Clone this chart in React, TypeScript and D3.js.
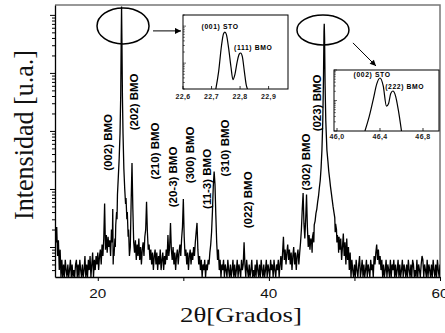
import React, { useEffect, useRef } from 'react';
import * as d3 from 'd3';

// XRD scan, counts, step 0.1 deg outside the two big peaks
const scanAStart = 15.0;
const scanA = [35, 12, 22, 7, 13, 4, 9, 3, 6, 3, 5, 3, 6, 4, 3, 5, 3, 4, 6, 3, 5, 3, 4, 3, 5, 6, 3, 5, 3, 6,
  4, 3, 5, 3, 4, 7, 3, 5, 3, 6, 4, 7, 3, 5, 8, 3, 6, 4, 7, 5, 8, 4, 7, 9, 5, 11, 7, 14, 56, 9,
  16, 8, 15, 10, 13, 7, 20, 12];

const peak1Theta = [21.75, 21.8, 21.85, 21.9, 22.0, 22.05, 22.1, 22.2, 22.25, 22.3, 22.4, 22.5, 22.6, 22.68,
  22.74, 22.78, 22.82, 22.88, 22.95, 23.05, 23.15, 23.25, 23.3, 23.4, 23.45, 23.55, 23.6, 23.7];
const peak1Counts = [45, 5, 9, 7, 14, 10, 24, 40, 30, 80, 160, 330, 900, 4000,
  40000, 140000, 40000, 4000, 900, 220, 100, 55, 70, 30, 40, 15, 20, 7];

const scanBStart = 23.8;
const scanB = [10, 60,
  280, 45, 12, 8, 13, 6, 11, 7, 14, 6,
  10, 5, 9, 12, 7, 15, 20, 60, 18, 9,
  11, 6, 9, 5, 8, 4, 7, 9, 5, 8,
  4, 7, 5, 9, 4, 6, 8, 4, 7, 5,
  9, 6, 16, 7, 10, 26, 9, 6, 10, 5,
  8, 4, 7, 9, 5, 8, 11, 7, 14, 22,
  67, 15, 7, 9, 5, 8, 4, 7, 9, 5,
  8, 6, 10, 7, 12, 18, 26, 9, 5, 7,
  4, 6, 3, 5, 4, 6, 3, 5, 4, 6,
  5, 8, 11, 18, 40, 110, 200, 120, 35, 12,
  6, 9, 4, 6, 3, 5, 4, 6, 3, 5,
  4, 3, 6, 4, 3, 5, 3, 4, 6, 3,
  5, 3, 4, 6, 3, 5, 4, 3, 6, 4,
  5, 12, 5, 3, 6, 4, 3, 5, 3, 4,
  6, 3, 4, 3, 5, 3, 6, 4, 3, 5,
  3, 6, 4, 3, 5, 3, 4, 6, 3, 5,
  4, 3, 6, 4, 5, 3, 6, 4, 3, 5,
  4, 6, 3, 5, 7, 4, 8, 15, 6, 9,
  5, 8, 11, 6, 9, 5, 8, 4, 7, 10,
  5, 8, 4, 7, 9, 5, 8, 12, 20, 45,
  85, 25, 14, 30, 80, 22, 10, 16, 9, 14];

const peak2Theta = [45.0, 45.05, 45.1, 45.2, 45.25, 45.3, 45.4, 45.5, 45.6, 45.7, 45.8, 45.9, 46.0, 46.1,
  46.2, 46.3, 46.38, 46.44, 46.47, 46.51, 46.57, 46.65, 46.78, 46.9, 47.0, 47.1, 47.2, 47.3, 47.4, 47.5,
  47.6, 47.7, 47.75, 47.8, 47.9, 47.95, 48.0, 48.1, 48.15, 48.2, 48.3, 48.4, 48.5];
const peak2Counts = [12, 8, 15, 18, 12, 24, 28, 38, 45, 60, 75, 105, 140, 230,
  470, 1500, 8000, 50000, 70000, 40000, 6000, 1500, 470, 300, 200, 150, 110, 85, 65, 50,
  40, 32, 18, 25, 20, 12, 16, 13, 8, 15, 9, 14, 6];

const scanCStart = 48.6;
const scanC = [10, 17, 7, 12, 5, 14, 6, 10, 4, 8, 3, 6, 4, 3,
  5, 3, 6, 4, 3, 5, 7, 3, 4, 6,
  3, 5, 3, 4, 6, 3, 5, 4, 3, 6,
  4, 5, 3, 7, 5, 8, 11, 6, 9, 5,
  7, 4, 6, 3, 5, 3, 4, 6, 3, 5,
  4, 3, 6, 3, 5, 4, 6, 3, 5, 3,
  4, 6, 3, 5, 3, 4, 6, 3, 5, 4,
  3, 5, 3, 6, 4, 3, 5, 3, 6, 5,
  3, 4, 3, 6, 3, 5, 4, 3, 5, 7,
  6, 3, 5, 4, 3, 6, 3, 5, 4, 3,
  5, 3, 6, 4, 3, 5, 3, 6, 4, 3,
  5];

const xTicks = [20, 30, 40, 50, 60];
const xTickLabels = [20, 40, 60];

// reflection labels: text, centre (2theta, counts)
const peakNames = ['(002) BMO', '(202) BMO', '(210) BMO', '(20-3) BMO', '(300) BMO', '(11-3) BMO',
  '(310) BMO', '(022) BMO', '(302) BMO', '(023) BMO'];
const peakNameTheta = [21.19, 24.23, 26.69, 28.79, 30.78, 32.77, 34.87, 37.56, 44.34, 45.62];
const peakNameCounts = [634, 3162, 452, 161, 386, 149, 509, 65, 292, 3040];

// circled regions
const circleTheta = [22.95, 46.32];
const circleCounts = [64600, 55100];

// inset 1 (001) STO / (111) BMO
const inset1Theta = [22.715, 22.725, 22.735, 22.742, 22.747, 22.752, 22.76, 22.768, 22.775, 22.782,
  22.79, 22.797, 22.802, 22.808, 22.815, 22.822, 22.826];
const inset1Counts = [2000, 6000, 30000, 62000, 69000, 60000, 25000, 8000, 3600, 5000,
  11000, 17500, 18800, 15000, 6000, 2500, 2000];
const inset1Ticks = [22.6, 22.7, 22.8, 22.9];
const inset1Names = ['(001) STO', '(111) BMO'];
const inset1NameTheta = [22.73, 22.846];
const inset1NameCounts = [83700, 22600];

// inset 2 (002) STO / (222) BMO
const inset2Theta = [46.26, 46.3, 46.34, 46.37, 46.4, 46.43, 46.46, 46.48, 46.5, 46.52, 46.545, 46.57, 46.6];
const inset2Counts = [1000, 3000, 12000, 35000, 54700, 30000, 6500, 8000, 17000, 20500, 14000, 5000, 1000];
const inset2Ticks = [46.0, 46.4, 46.8];
const inset2Names = ['(002) STO', '(222) BMO'];
const inset2NameTheta = [46.326, 46.63];
const inset2NameCounts = [59000, 23800];

const SANS = "'Liberation Sans', Arial, sans-serif";
const SERIF = "'Liberation Serif', 'Times New Roman', serif";

const scanPoints = (start: number, counts: number[]) =>
  counts.map((c, i) => [+(start + i * 0.1).toFixed(2), c] as [number, number]);

const App = () => {
  const ref = useRef<SVGSVGElement>(null);

  useEffect(() => {
    const svg = d3.select(ref.current);
    svg.selectAll('*').remove();

    const left = 55, right = 440, top = 5, bottom = 277;
    const x = d3.scaleLinear().domain([15, 60]).range([left, right]);
    const y = d3.scaleLog().domain([3.04, 148000]).range([bottom, top]).clamp(true);

    const series = [
      ...scanPoints(scanAStart, scanA),
      ...peak1Theta.map((t, i) => [t, peak1Counts[i]] as [number, number]),
      ...scanPoints(scanBStart, scanB),
      ...peak2Theta.map((t, i) => [t, peak2Counts[i]] as [number, number]),
      ...scanPoints(scanCStart, scanC),
    ].sort((a, b) => a[0] - b[0]);

    svg.append('rect').attr('width', 445).attr('height', 333).attr('fill', '#fff');

    const defs = svg.append('defs');
    defs.append('clipPath').attr('id', 'plot-clip')
      .append('rect').attr('x', left).attr('y', top).attr('width', right - left).attr('height', bottom - top);
    defs.append('marker').attr('id', 'arrow').attr('viewBox', '0 0 10 10')
      .attr('refX', 10).attr('refY', 5).attr('markerWidth', 8).attr('markerHeight', 6)
      .attr('markerUnits', 'userSpaceOnUse').attr('orient', 'auto')
      .append('path').attr('d', 'M0,0L10,5L0,10Z').attr('fill', '#000');

    // frame
    svg.append('path')
      .attr('d', `M${left},${top}H${right}V${bottom}`)
      .attr('fill', 'none').attr('stroke', '#777').attr('stroke-width', 1.5);

    // scan
    const line = d3.line<[number, number]>().x((d) => x(d[0])).y((d) => y(d[1]));
    svg.append('path')
      .datum(series)
      .attr('clip-path', 'url(#plot-clip)')
      .attr('d', line)
      .attr('fill', 'none').attr('stroke', '#000').attr('stroke-width', 1.3);

    // x axis
    const xAxis = svg.append('g').attr('transform', `translate(0,${bottom})`)
      .call(d3.axisBottom(x).tickValues(xTicks).tickSize(4).tickSizeOuter(0).tickFormat(() => ''));
    xAxis.select('.domain').attr('stroke', '#000').attr('stroke-width', 1.3);
    xAxis.selectAll('.tick line').attr('stroke', '#000');
    svg.append('g').selectAll('text').data(xTickLabels).join('text')
      .attr('x', (d) => x(d)).attr('y', 298)
      .attr('text-anchor', 'middle')
      .attr('textLength', 17).attr('lengthAdjust', 'spacingAndGlyphs')
      .style('font-family', SANS).style('font-size', '13px').attr('fill', '#111')
      .text((d) => d);

    // y axis, log ticks without labels
    const yTicks = y.ticks().filter((d) => d >= 3.04);
    const isMajor = (d: number) => Math.abs(Math.log10(d) - Math.round(Math.log10(d))) < 1e-6;
    const yAxis = svg.append('g').attr('transform', `translate(${left},0)`)
      .call(d3.axisLeft(y).tickValues(yTicks.filter(isMajor)).tickSize(5).tickSizeOuter(0).tickFormat(() => ''));
    yAxis.select('.domain').attr('stroke', '#000').attr('stroke-width', 1.3);
    svg.append('g').attr('transform', `translate(${left},0)`)
      .call(d3.axisLeft(y).tickValues(yTicks.filter((d) => !isMajor(d))).tickSize(3).tickSizeOuter(0).tickFormat(() => ''))
      .select('.domain').remove();

    // axis titles
    svg.append('text')
      .attr('x', 241).attr('y', 322).attr('text-anchor', 'middle')
      .attr('textLength', 122).attr('lengthAdjust', 'spacingAndGlyphs')
      .style('font-family', SERIF).style('font-size', '21px').attr('fill', '#111')
      .text('2θ[Grados]');
    svg.append('text')
      .attr('transform', 'translate(33,135) rotate(-90)').attr('text-anchor', 'middle')
      .attr('textLength', 170).attr('lengthAdjust', 'spacingAndGlyphs')
      .style('font-family', SERIF).style('font-size', '27px').attr('fill', '#111')
      .text('Intensidad [u.a.]');

    // reflection labels
    svg.append('g').selectAll('text').data(peakNames).join('text')
      .attr('transform', (d, i) => `translate(${x(peakNameTheta[i])},${y(peakNameCounts[i])}) rotate(-90)`)
      .attr('text-anchor', 'middle').attr('dy', '0.35em')
      .style('font-family', SANS).style('font-size', '11.5px').style('font-weight', 'bold').attr('fill', '#000')
      .text((d) => d);

    // ellipses around the substrate peaks
    svg.append('g').selectAll('ellipse').data(circleTheta).join('ellipse')
      .attr('cx', (d) => x(d)).attr('cy', (d, i) => y(circleCounts[i]))
      .attr('rx', 26).attr('ry', (d, i) => (i === 0 ? 18 : 15))
      .attr('fill', 'none').attr('stroke', '#000').attr('stroke-width', 1.5);

    const box1 = { x: 183, y: 15, w: 105, h: 74 };
    const box2 = { x: 334, y: 70, w: 105, h: 61 };

    const c1x = x(circleTheta[0]), c1y = y(circleCounts[0]);
    const c2x = x(circleTheta[1]), c2y = y(circleCounts[1]);
    svg.append('line')
      .attr('x1', c1x + 30).attr('y1', c1y + 5).attr('x2', box1.x - 2).attr('y2', c1y + 5)
      .attr('stroke', '#000').attr('stroke-width', 1).attr('marker-end', 'url(#arrow)');
    svg.append('line')
      .attr('x1', c2x + 30).attr('y1', c2y + 13).attr('x2', box2.x + 42).attr('y2', box2.y - 4)
      .attr('stroke', '#000').attr('stroke-width', 1).attr('marker-end', 'url(#arrow)');

    // insets
    const drawInset = (
      box: { x: number; y: number; w: number; h: number },
      xDomain: [number, number], yDomain: [number, number],
      theta: number[], counts: number[], ticks: number[],
      names: string[], nameTheta: number[], nameCounts: number[], labelY: number,
    ) => {
      const g = svg.append('g');
      const ix = d3.scaleLinear().domain(xDomain).range([box.x, box.x + box.w]);
      const iy = d3.scaleLog().domain(yDomain).range([box.y + box.h, box.y]).clamp(true);
      const clipId = `clip-${box.x}`;
      defs.append('clipPath').attr('id', clipId)
        .append('rect').attr('x', box.x).attr('y', box.y).attr('width', box.w).attr('height', box.h);
      g.append('rect').attr('x', box.x).attr('y', box.y).attr('width', box.w).attr('height', box.h)
        .attr('fill', '#fff').attr('stroke', '#000').attr('stroke-width', 1);
      const pts = theta.map((t, i) => [t, counts[i]] as [number, number]);
      g.append('path').datum(pts)
        .attr('clip-path', `url(#${clipId})`)
        .attr('d', d3.line<[number, number]>().x((d) => ix(d[0])).y((d) => iy(d[1])).curve(d3.curveMonotoneX))
        .attr('fill', 'none').attr('stroke', '#000').attr('stroke-width', 1.2);
      // x ticks inside
      g.selectAll('line.xt').data(ticks).join('line').attr('class', 'xt')
        .attr('x1', (d) => ix(d)).attr('x2', (d) => ix(d))
        .attr('y1', box.y + box.h).attr('y2', box.y + box.h - 3)
        .attr('stroke', '#000').attr('stroke-width', 0.8);
      g.selectAll('text.xl').data(ticks).join('text').attr('class', 'xl')
        .attr('x', (d) => ix(d)).attr('y', labelY).attr('text-anchor', 'middle')
        .style('font-family', SANS).style('font-size', '7px').style('font-weight', 'bold')
        .style('letter-spacing', '0.4px').attr('fill', '#222')
        .text((d) => d.toFixed(1).replace('.', ','));
      // y log ticks inside
      const iyTicks = iy.ticks();
      g.selectAll('line.yt').data(iyTicks).join('line').attr('class', 'yt')
        .attr('x1', box.x).attr('x2', (d) => box.x + (isMajor(d) ? 3 : 1.8))
        .attr('y1', (d) => iy(d)).attr('y2', (d) => iy(d))
        .attr('stroke', '#000').attr('stroke-width', 0.6);
      g.selectAll('text.nm').data(names).join('text').attr('class', 'nm')
        .attr('x', (d, i) => ix(nameTheta[i])).attr('y', (d, i) => iy(nameCounts[i]))
        .attr('text-anchor', 'middle')
        .style('font-family', SANS).style('font-size', '6.8px').style('font-weight', 'bold')
        .style('letter-spacing', '0.6px').attr('fill', '#000')
        .text((d) => d);
    };

    drawInset(box1, [22.6, 22.968], [2000, 200000], inset1Theta, inset1Counts, inset1Ticks,
      inset1Names, inset1NameTheta, inset1NameCounts, 99);
    drawInset(box2, [45.972, 46.949], [1000, 100000], inset2Theta, inset2Counts, inset2Ticks,
      inset2Names, inset2NameTheta, inset2NameCounts, 139);
  }, []);

  return <svg ref={ref} width={445} height={333} style={{ position: 'absolute', left: 0, top: 0 }} />;
};

export default App;
